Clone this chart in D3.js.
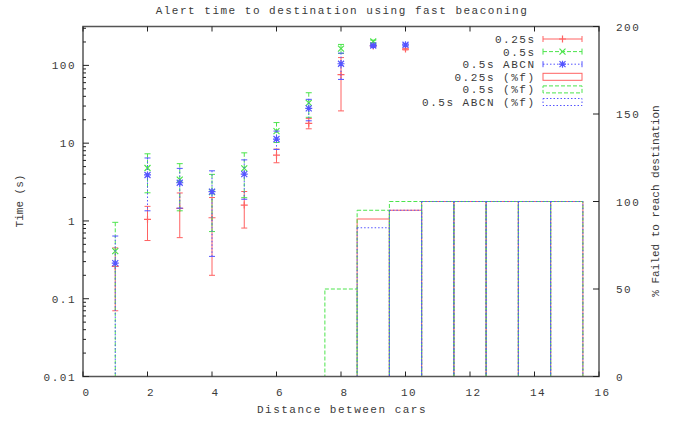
<!DOCTYPE html>
<html>
<head>
<meta charset="utf-8">
<script src="https://cdn.jsdelivr.net/npm/d3@7"></script>
<style>
  body { margin: 0; background: #fff; }
  svg text { font-family: "Liberation Mono", "DejaVu Sans Mono", monospace; font-size: 11px; fill: #3a3a3a; }
</style>
</head>
<body>
<script>
// alert time per distance, mean and spread for each beaconing setting
const distances = [1, 2, 3, 4, 5, 6, 7, 8, 9, 10];
const t025Mean = [0.26, 1.05, 1.45, 1.1, 1.6, 7.0, 18, 76, 178, 162];
const t025Err  = [0.19, 0.49, 0.84, 0.9, 0.79, 1.4, 2.7, 50, 5, 4];
const t05Mean  = [0.41, 4.8, 3.4, 2.35, 4.75, 14.3, 33, 164, 203, null];
const t05Err   = [0.55, 2.5, 2.05, 1.62, 2.76, 4.1, 11.5, 22, 8, null];
const abcnMean = [0.287, 3.9, 3.1, 2.38, 4.0, 11.3, 28, 105, 180, 184];
const abcnErr  = [0.353, 2.55, 1.64, 2.03, 2.1, 3.0, 8.6, 39, 6, 6];

// percent failed to reach destination (boxes, width 1)
const failDist = [8, 9, 10, 11, 12, 13, 14, 15];
const fail025  = [0, 90, 95, 100, 100, 100, 100, 100];
const fail05   = [50, 95, 100, 100, 100, 100, 100, 100];
const failAbcn = [0, 85, 95, 100, 100, 100, 100, 100];

const xTicks = [0, 2, 4, 6, 8, 10, 12, 14, 16];
const yTicks = [0.01, 0.1, 1, 10, 100];
const y2Ticks = [0, 50, 100, 150, 200];

const width = 679, height = 422;
const pLeft = 83, pRight = 599, pTop = 26.5, pBottom = 376.5;

const red = "#ff6262", green = "#4ce44c", blue = "#5555ff";

const svg = d3.select("body").append("svg")
  .attr("width", width)
  .attr("height", height);

const x = d3.scaleLinear().domain([0, 16]).range([pLeft, pRight]);
const y = d3.scaleLog().domain([0.01, Math.pow(10, 2.5)]).range([pBottom, pTop]);
const y2 = d3.scaleLinear().domain([0, 200]).range([pBottom, pTop]);

svg.append("clipPath").attr("id", "plotclip")
  .append("rect")
  .attr("x", pLeft).attr("y", pTop)
  .attr("width", pRight - pLeft).attr("height", pBottom - pTop);

const plot = svg.append("g").attr("clip-path", "url(#plotclip)");

// boxes for the failure percentage
function boxes(vals, color, dash) {
  failDist.forEach((d, i) => {
    if (!vals[i]) return;
    plot.append("rect")
      .attr("x", x(d - 0.5))
      .attr("y", y2(vals[i]))
      .attr("width", x(d + 0.5) - x(d - 0.5))
      .attr("height", y2(0) - y2(vals[i]))
      .attr("fill", "none")
      .attr("stroke", color)
      .attr("stroke-width", 1)
      .attr("stroke-dasharray", dash);
  });
}
boxes(fail025, red, null);
boxes(fail05, green, "4,2");
boxes(failAbcn, blue, "1.5,2");

function marker(g, type, cx, cy, color) {
  const s = 3.5;
  let d = "";
  if (type == "+" || type == "*") d += `M${cx - s},${cy}H${cx + s}M${cx},${cy - s}V${cy + s}`;
  if (type == "x" || type == "*") d += `M${cx - 3},${cy - 3}L${cx + 3},${cy + 3}M${cx - 3},${cy + 3}L${cx + 3},${cy - 3}`;
  g.append("path").attr("d", d).attr("stroke", color).attr("stroke-width", 1.2).attr("fill", "none");
}

function errorSeries(means, errs, color, dash, type) {
  const g = plot.append("g");
  distances.forEach((d, i) => {
    if (means[i] == null) return;
    const hi = means[i] + errs[i];
    const lo = means[i] - errs[i];
    const cx = x(d);
    const yHi = y(hi);
    const yLo = lo > 0 ? y(lo) : pBottom + 5;
    g.append("line")
      .attr("x1", cx).attr("x2", cx)
      .attr("y1", yHi).attr("y2", yLo)
      .attr("stroke", color).attr("stroke-dasharray", dash);
    g.append("line").attr("x1", cx - 3).attr("x2", cx + 3).attr("y1", yHi).attr("y2", yHi).attr("stroke", color);
    if (lo > 0)
      g.append("line").attr("x1", cx - 3).attr("x2", cx + 3).attr("y1", yLo).attr("y2", yLo).attr("stroke", color);
    marker(g, type, cx, y(means[i]), color);
  });
}
errorSeries(t025Mean, t025Err, red, null, "+");
errorSeries(t05Mean, t05Err, green, "4,2", "x");
errorSeries(abcnMean, abcnErr, blue, "1.5,2", "*");

// border and ticks (gnuplot style, ticks point inward)
const axes = svg.append("g");
axes.append("rect")
  .attr("x", pLeft).attr("y", pTop)
  .attr("width", pRight - pLeft).attr("height", pBottom - pTop)
  .attr("fill", "none").attr("stroke", "#555").attr("stroke-width", 1.5);

xTicks.forEach(t => {
  axes.append("line").attr("x1", x(t)).attr("x2", x(t)).attr("y1", pBottom).attr("y2", pBottom - 5).attr("stroke", "#222");
  axes.append("line").attr("x1", x(t)).attr("x2", x(t)).attr("y1", pTop).attr("y2", pTop + 5).attr("stroke", "#222");
  axes.append("text")
    .attr("x", x(t) + 3.5).attr("y", pBottom + 19)
    .attr("text-anchor", "middle").attr("letter-spacing", "1.5px")
    .text(t);
});

yTicks.forEach(t => {
  axes.append("line").attr("x1", pLeft).attr("x2", pLeft + 6).attr("y1", y(t)).attr("y2", y(t)).attr("stroke", "#222");
  axes.append("text")
    .attr("x", pLeft - 7).attr("y", y(t) + 4)
    .attr("text-anchor", "end").attr("letter-spacing", "1.5px")
    .text(t);
});
// minor log ticks
y.ticks().forEach(t => {
  if (yTicks.some(m => Math.abs(m - t) < 1e-9)) return;
  axes.append("line").attr("x1", pLeft).attr("x2", pLeft + 3).attr("y1", y(t)).attr("y2", y(t)).attr("stroke", "#222");
});

y2Ticks.forEach(t => {
  axes.append("line").attr("x1", pRight).attr("x2", pRight - 6).attr("y1", y2(t)).attr("y2", y2(t)).attr("stroke", "#222");
  axes.append("text")
    .attr("x", pRight + 17).attr("y", y2(t) + 4)
    .attr("text-anchor", "start").attr("letter-spacing", "1.5px")
    .text(t);
});

// titles
svg.append("text")
  .attr("x", 342).attr("y", 14)
  .attr("text-anchor", "middle").attr("letter-spacing", "1.5px")
  .text("Alert time to destination using fast beaconing");

svg.append("text")
  .attr("x", 342).attr("y", 413)
  .attr("text-anchor", "middle").attr("letter-spacing", "1.5px")
  .text("Distance between cars");

svg.append("text")
  .attr("transform", "translate(23,201) rotate(-90)")
  .attr("text-anchor", "middle")
  .text("Time (s)");

svg.append("text")
  .attr("transform", "translate(659,201) rotate(-90)")
  .attr("text-anchor", "middle")
  .text("% Failed to reach destination");

// legend
const legendNames = ["0.25s", "0.5s", "0.5s ABCN", "0.25s (%f)", "0.5s (%f)", "0.5s ABCN (%f)"];
const legendColors = [red, green, blue, red, green, blue];
const legendDash = [null, "4,2", "1.5,2", null, "4,2", "1.5,2"];
const legendType = ["+", "x", "*", "box", "box", "box"];

const legend = svg.append("g");
legendNames.forEach((name, i) => {
  const ly = 39 + i * 12.6;
  legend.append("text")
    .attr("x", 535.5).attr("y", ly + 4)
    .attr("text-anchor", "end").attr("letter-spacing", "1.5px")
    .text(name);
  const c = legendColors[i];
  if (legendType[i] == "box") {
    legend.append("rect")
      .attr("x", 543).attr("y", ly - 3.5).attr("width", 39).attr("height", 7)
      .attr("fill", "none").attr("stroke", c).attr("stroke-dasharray", legendDash[i]);
  } else {
    legend.append("line").attr("x1", 543).attr("x2", 582).attr("y1", ly).attr("y2", ly)
      .attr("stroke", c).attr("stroke-dasharray", legendDash[i]);
    legend.append("line").attr("x1", 543).attr("x2", 543).attr("y1", ly - 3).attr("y2", ly + 3).attr("stroke", c);
    legend.append("line").attr("x1", 582).attr("x2", 582).attr("y1", ly - 3).attr("y2", ly + 3).attr("stroke", c);
    marker(legend, legendType[i], 562.5, ly, c);
  }
});
</script>
</body>
</html>
